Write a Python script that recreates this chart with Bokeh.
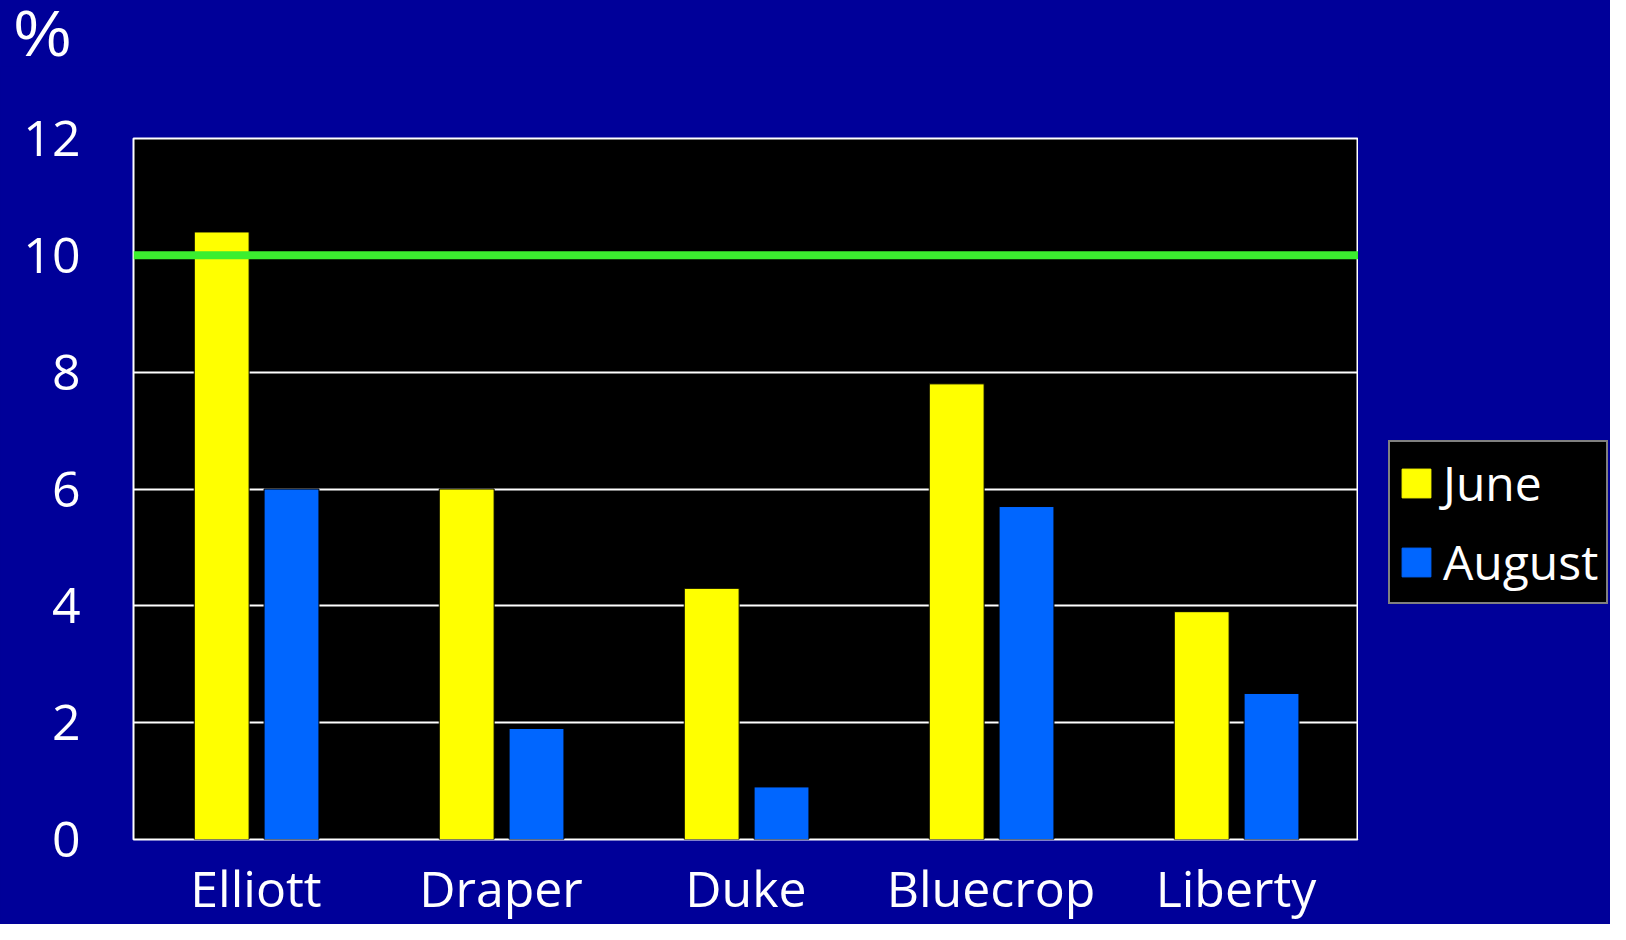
from bokeh.plotting import figure
from bokeh.layouts import row, column
from bokeh.models import (FactorRange, Range1d, FixedTicker, ColumnDataSource,
                          Legend, LegendItem, Span, Div)
from bokeh.transform import dodge
from bokeh.embed import file_html
from bokeh.resources import INLINE

# ---- data ----
cultivars = ["Elliott", "Draper", "Duke", "Bluecrop", "Liberty"]
june = [10.4, 6.0, 4.3, 7.8, 3.9]
august = [6.0, 1.9, 0.9, 5.7, 2.5]
y_ticks = [0, 2, 4, 6, 8, 10, 12]
threshold = 10
unit_label = "%"
series_names = ["June", "August"]
series_colors = ["#FFFF00", "#0066FF"]

FONT = "Open Sans"
BG = "#000099"
HEADER_H = 66

source = ColumnDataSource(dict(cultivar=cultivars, june=june, august=august))

# ---- header with the unit label ----
header = Div(text=unit_label, width=1610, height=HEADER_H,
             styles={"background-color": BG, "color": "white",
                     "font-family": "Liberation Sans", "font-size": "64px",
                     "line-height": "1", "padding-left": "14px",
                     "padding-top": "2px", "margin": "0"})

p = figure(width=1358, height=924 - HEADER_H, x_range=FactorRange(*cultivars),
           y_range=Range1d(0, 12), output_backend="svg", toolbar_location=None,
           min_border_left=133, min_border_top=138 - HEADER_H, min_border_right=0,
           min_border_bottom=85)

p.background_fill_color = "black"
p.border_fill_color = BG
p.outline_line_color = "white"
p.outline_line_width = 2

p.vbar(x=dodge("cultivar", -0.14, range=p.x_range), top="june", width=0.224,
       source=source, fill_color=series_colors[0], line_color="black", line_width=1)
p.vbar(x=dodge("cultivar", 0.145, range=p.x_range), top="august", width=0.224,
       source=source, fill_color=series_colors[1], line_color="black", line_width=1)

p.add_layout(Span(location=threshold, dimension="width", line_color="#3BEE2F",
                  line_width=8))

p.xgrid.grid_line_color = None
p.ygrid.grid_line_color = "white"
p.ygrid.grid_line_width = 2
p.yaxis.ticker = FixedTicker(ticks=y_ticks)

for ax in (p.xaxis[0], p.yaxis[0]):
    ax.axis_line_color = None
    ax.major_tick_line_color = None
    ax.minor_tick_line_color = None
    ax.major_tick_out = 0
    ax.major_tick_in = 0
    ax.major_label_text_color = "white"
    ax.major_label_text_font = FONT

p.yaxis.major_label_text_font_size = "50px"
p.yaxis.major_label_standoff = 53
p.xaxis.major_label_text_font_size = "50px"
p.xaxis.major_label_standoff = 14

# ---- legend panel (separate figure so nothing is clipped) ----
lg = figure(width=252, height=924 - HEADER_H, x_range=Range1d(0, 1),
            y_range=Range1d(0, 1), output_backend="svg", toolbar_location=None,
            x_axis_location=None, y_axis_location=None, min_border=0)
lg.grid.visible = False
lg.outline_line_color = None
lg.background_fill_color = BG
lg.border_fill_color = BG
# legend key proxies, kept outside the visible range of this panel
proxies = [lg.vbar(x=[-1], top=[0], width=0.1, fill_color=c, line_color=c)
           for c in series_colors]

legend = Legend(items=[LegendItem(label=n, renderers=[r])
                       for n, r in zip(series_names, proxies)],
                location=(30, 235))
legend.background_fill_color = "black"
legend.background_fill_alpha = 1
legend.border_line_color = "white"
legend.border_line_width = 2
legend.label_text_color = "white"
legend.label_text_font = FONT
legend.label_text_font_size = "48px"
legend.glyph_width = 36
legend.glyph_height = 36
legend.label_standoff = 9
legend.padding = 8
legend.spacing = 14
legend.margin = 0
lg.add_layout(legend, "center")

layout = column(header, row(p, lg, spacing=0, styles={"background-color": BG}),
                spacing=0, styles={"background-color": BG})
open("out.html", "w").write(file_html(layout, INLINE))
